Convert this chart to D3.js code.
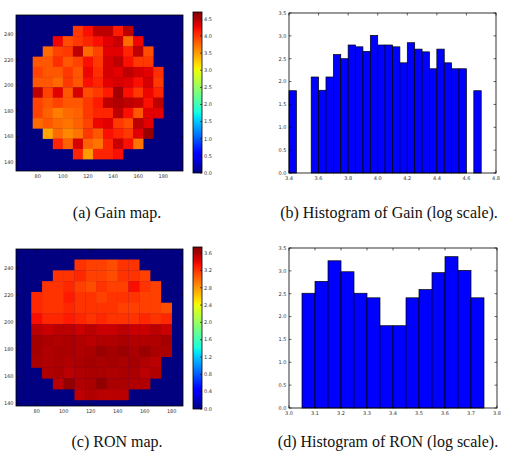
<!DOCTYPE html>
<html>
<head>
<meta charset="utf-8">
<script src="https://cdn.jsdelivr.net/npm/d3@7"></script>
<style>
  body { margin: 0; background: #fff; }
  text { font-family: "DejaVu Sans", sans-serif; fill: #333; }
  .caption { font-family: "Liberation Serif", serif; font-size: 16px; fill: #111; }
</style>
</head>
<body>
<svg id="fig" width="506" height="455"></svg>
<script>
// ---- data ----
// gain map, 13x13 cells (8 px bins), top row first, null = outside the detector
const gainMap = [
  [null, null, null, null, 4.0, 4.2, 4.45, 4.45, 4.15, 4.45, null, null, null],
  [null, null, 4.25, 3.9, 4.0, 4.1, 4.2, 4.3, 4.4, 3.75, 4.25, null, null],
  [null, 3.75, 3.95, 4.0, 4.45, 3.75, 3.95, 4.3, 4.3, 4.1, 4.45, 3.9, null],
  [3.85, 3.85, 4.05, 3.85, 3.95, 4.2, 4.0, 4.35, 4.45, 4.2, 4.0, 4.0, null],
  [3.95, 3.85, 3.85, 4.0, 3.85, 4.25, 4.05, 4.35, 4.3, 4.45, 4.35, 4.3, 4.05],
  [3.85, 3.85, 3.75, 4.0, 3.85, 4.2, 4.1, 4.3, 4.35, 4.3, 4.2, 4.35, 4.0],
  [4.45, 3.95, 4.3, 3.85, 4.35, 3.9, 4.0, 4.15, 4.55, 4.2, 4.0, 4.25, 4.1],
  [3.95, 3.85, 3.95, 3.85, 3.85, 4.0, 4.15, 4.45, 4.5, 4.45, 4.4, 4.2, 4.45],
  [3.95, 3.8, 3.65, 3.75, 3.8, 4.0, 4.1, 4.1, 4.45, 4.2, 3.85, 4.3, 4.3],
  [3.75, 3.85, 3.75, 3.7, 3.8, 3.95, 4.25, 4.3, 4.0, 3.9, 4.45, 4.3, null],
  [null, 3.45, 3.75, 3.6, 3.7, 4.0, 3.85, 4.2, 4.1, 4.0, 4.3, 4.6, null],
  [null, null, 4.1, 3.8, 4.35, 3.8, 3.7, 4.1, 4.4, 4.2, 3.7, null, null],
  [null, null, null, null, 4.1, 3.5, 4.1, 4.1, 4.2, null, null, null, null]
];
const ronMap = [
  [null, null, null, null, 3.2, 3.15, 3.15, 3.1, 3.2, 3.2, null, null, null],
  [null, null, 3.2, 3.2, 3.25, 3.15, 3.15, 3.1, 3.2, 3.2, 3.15, null, null],
  [null, 3.2, 3.2, 3.25, 3.15, 3.1, 3.2, 3.15, 3.15, 3.35, 3.2, 3.15, null],
  [3.25, 3.2, 3.2, 3.3, 3.2, 3.2, 3.15, 3.2, 3.2, 3.2, 3.15, 3.15, null],
  [3.25, 3.2, 3.2, 3.25, 3.2, 3.2, 3.2, 3.2, 3.15, 3.15, 3.15, 3.15, 3.1],
  [3.35, 3.25, 3.25, 3.3, 3.25, 3.2, 3.25, 3.2, 3.2, 3.2, 3.25, 3.2, 3.25],
  [3.55, 3.5, 3.55, 3.55, 3.5, 3.55, 3.5, 3.5, 3.55, 3.5, 3.5, 3.55, 3.5],
  [3.62, 3.6, 3.58, 3.6, 3.58, 3.55, 3.58, 3.58, 3.6, 3.58, 3.58, 3.58, 3.62],
  [3.62, 3.58, 3.6, 3.6, 3.58, 3.6, 3.65, 3.62, 3.65, 3.6, 3.65, 3.6, 3.6],
  [3.6, 3.58, 3.6, 3.58, 3.6, 3.62, 3.6, 3.62, 3.6, 3.62, 3.58, 3.55, null],
  [null, 3.58, 3.6, 3.55, 3.58, 3.6, 3.6, 3.58, 3.6, 3.6, 3.55, 3.58, null],
  [null, null, 3.55, 3.68, 3.58, 3.6, 3.68, 3.6, 3.6, 3.58, 3.58, null, null],
  [null, null, null, null, 3.55, 3.58, 3.55, 3.55, 3.55, null, null, null, null]
];
const gainMax = 4.7;
const ronMax = 3.74;
const gainCbarTicks = [0, 0.5, 1, 1.5, 2, 2.5, 3, 3.5, 4, 4.5];
const ronCbarTicks = [0, 0.4, 0.8, 1.2, 1.6, 2.0, 2.4, 2.8, 3.2, 3.6];
const mapXTicks = [80, 100, 120, 140, 160, 180];
const mapYTicks = [140, 160, 180, 200, 220, 240];

// histograms: left edge of each bin (width 0.05) and log10 count
const gainBins = [3.40, 3.55, 3.60, 3.65, 3.70, 3.75, 3.80, 3.85, 3.90, 3.95, 4.00, 4.05,
  4.10, 4.15, 4.20, 4.25, 4.30, 4.35, 4.40, 4.45, 4.50, 4.55, 4.65];
const gainLogCounts = [1.8, 2.1, 1.81, 2.1, 2.59, 2.5, 2.8, 2.76, 2.66, 3.01, 2.8, 2.8,
  2.76, 2.41, 2.85, 2.71, 2.65, 2.28, 2.71, 2.41, 2.28, 2.28, 1.8];
const ronBins = [3.05, 3.10, 3.15, 3.20, 3.25, 3.30, 3.35, 3.40, 3.45, 3.50, 3.55, 3.60, 3.65, 3.70];
const ronLogCounts = [2.51, 2.77, 3.22, 2.98, 2.51, 2.41, 1.8, 1.8, 2.41, 2.59, 2.96, 3.31, 3.01, 2.41];
const binWidth = 0.05;
const gainHistXTicks = [3.4, 3.6, 3.8, 4.0, 4.2, 4.4, 4.6, 4.8];
const ronHistXTicks = [3.0, 3.1, 3.2, 3.3, 3.4, 3.5, 3.6, 3.7, 3.8];
const histYTicks = [0, 0.5, 1, 1.5, 2, 2.5, 3, 3.5];

const captions = ["(a) Gain map.", "(b) Histogram of Gain (log scale).",
  "(c) RON map.", "(d) Histogram of RON (log scale)."];

// matplotlib "jet"
const jetR = d3.scaleLinear().domain([0, 0.35, 0.66, 0.89, 1]).range([0, 0, 1, 1, 0.5]).clamp(true);
const jetG = d3.scaleLinear().domain([0, 0.125, 0.375, 0.64, 0.91, 1]).range([0, 0, 1, 1, 0, 0]).clamp(true);
const jetB = d3.scaleLinear().domain([0, 0.11, 0.34, 0.65, 1]).range([0.5, 1, 1, 0, 0]).clamp(true);
const jet = t => d3.rgb(jetR(t) * 255, jetG(t) * 255, jetB(t) * 255).formatHex();

const svg = d3.select('#fig');
svg.append('rect').attr('width', 506).attr('height', 455).attr('fill', '#fff');

// cell grid in detector coords
const cellSize = 8, cellLeft = 76, cellTop = 246.5;

function frameTicks(g, x, y, xt, yt, len) {
  const [x0, x1] = x.range(), [y0, y1] = y.range();
  xt.forEach(v => {
    const px = x(v);
    g.append('line').attr('x1', px).attr('x2', px).attr('y1', y0).attr('y2', y0 - len).attr('stroke', '#000').attr('stroke-width', 0.6);
    g.append('line').attr('x1', px).attr('x2', px).attr('y1', y1).attr('y2', y1 + len).attr('stroke', '#000').attr('stroke-width', 0.6);
  });
  yt.forEach(v => {
    const py = y(v);
    g.append('line').attr('x1', x0).attr('x2', x0 + len).attr('y1', py).attr('y2', py).attr('stroke', '#000').attr('stroke-width', 0.6);
    g.append('line').attr('x1', x1).attr('x2', x1 - len).attr('y1', py).attr('y2', py).attr('stroke', '#000').attr('stroke-width', 0.6);
  });
}

function tickLabels(g, x, y, xt, yt, fmt) {
  const y0 = y.range()[0], x0 = x.range()[0];
  g.selectAll(null).data(xt).join('text')
    .attr('x', d => x(d)).attr('y', y0 + 6.5)
    .attr('text-anchor', 'middle').attr('font-size', 5).text(fmt);
  g.selectAll(null).data(yt).join('text')
    .attr('x', x0 - 2.5).attr('y', d => y(d) + 1.8)
    .attr('text-anchor', 'end').attr('font-size', 5).text(fmt);
}

function drawMap(box, values, vmax, cbar, cticks, id) {
  const g = svg.append('g');
  const x = d3.scaleLinear().domain(box.xd).range([box.x0, box.x1]);
  const y = d3.scaleLinear().domain(box.yd).range([box.y1, box.y0]);
  const color = v => jet(v / vmax);

  g.append('rect').attr('x', box.x0).attr('y', box.y0)
    .attr('width', box.x1 - box.x0).attr('height', box.y1 - box.y0).attr('fill', color(0));

  const cells = [];
  values.forEach((row, r) => row.forEach((v, c) => {
    if (v !== null) cells.push({ r, c, v });
  }));
  g.selectAll(null).data(cells).join('rect')
    .attr('x', d => x(cellLeft + d.c * cellSize))
    .attr('y', d => y(cellTop - d.r * cellSize))
    .attr('width', d => x(cellLeft + (d.c + 1) * cellSize) - x(cellLeft + d.c * cellSize) + 0.3)
    .attr('height', d => y(cellTop - (d.r + 1) * cellSize) - y(cellTop - d.r * cellSize) + 0.3)
    .attr('fill', d => color(d.v));

  g.append('rect').attr('x', box.x0).attr('y', box.y0)
    .attr('width', box.x1 - box.x0).attr('height', box.y1 - box.y0)
    .attr('fill', 'none').attr('stroke', '#000').attr('stroke-width', 0.8);
  frameTicks(g, x, y, mapXTicks, mapYTicks, 2.5);
  tickLabels(g, x, y, mapXTicks, mapYTicks, d => d);

  // colorbar
  const grad = svg.append('defs').append('linearGradient').attr('id', id)
    .attr('x1', 0).attr('y1', 1).attr('x2', 0).attr('y2', 0);
  d3.range(0, 1.0001, 0.02).forEach(t => {
    grad.append('stop').attr('offset', t).attr('stop-color', jet(t));
  });
  const cy = d3.scaleLinear().domain([0, vmax]).range([cbar.y1, cbar.y0]);
  g.append('rect').attr('x', cbar.x0).attr('y', cbar.y0)
    .attr('width', cbar.x1 - cbar.x0).attr('height', cbar.y1 - cbar.y0)
    .attr('fill', `url(#${id})`).attr('stroke', '#000').attr('stroke-width', 0.8);
  cticks.forEach(v => {
    g.append('line').attr('x1', cbar.x1).attr('x2', cbar.x1 - 2)
      .attr('y1', cy(v)).attr('y2', cy(v)).attr('stroke', '#000').attr('stroke-width', 0.6);
  });
  g.selectAll(null).data(cticks).join('text')
    .attr('x', cbar.x1 + 2).attr('y', d => cy(d) + 1.8)
    .attr('font-size', 5).text(d => d3.format('.1f')(d));
}

function drawHist(box, bins, counts, xd, xt) {
  const g = svg.append('g');
  const x = d3.scaleLinear().domain(xd).range([box.x0, box.x1]);
  const y = d3.scaleLinear().domain([0, 3.5]).range([box.y1, box.y0]);
  g.selectAll(null).data(bins).join('rect')
    .attr('x', d => x(d))
    .attr('y', (d, i) => y(counts[i]))
    .attr('width', d => x(d + binWidth) - x(d))
    .attr('height', (d, i) => y(0) - y(counts[i]))
    .attr('fill', '#0000ff').attr('stroke', '#000').attr('stroke-width', 0.7);
  g.append('rect').attr('x', box.x0).attr('y', box.y0)
    .attr('width', box.x1 - box.x0).attr('height', box.y1 - box.y0)
    .attr('fill', 'none').attr('stroke', '#000').attr('stroke-width', 0.8);
  frameTicks(g, x, y, xt, histYTicks, 2.5);
  tickLabels(g, x, y, xt, histYTicks, d => d3.format('.1f')(d));
}

drawMap({ x0: 16, x1: 183, y0: 15, y1: 171, xd: [62.7, 195.7], yd: [133.2, 255] },
  gainMap, gainMax, { x0: 193, x1: 202, y0: 12, y1: 173 }, gainCbarTicks, 'cbA');
drawHist({ x0: 289, x1: 496, y0: 13, y1: 173 }, gainBins, gainLogCounts, [3.4, 4.8], gainHistXTicks);
drawMap({ x0: 16, x1: 183, y0: 249, y1: 406, xd: [64.7, 188.4], yd: [138, 254.3] },
  ronMap, ronMax, { x0: 193, x1: 202, y0: 247, y1: 409 }, ronCbarTicks, 'cbC');
drawHist({ x0: 289, x1: 497, y0: 248, y1: 408 }, ronBins, ronLogCounts, [3.0, 3.8], ronHistXTicks);

// captions
const capPos = [[117, 218], [389, 218], [117, 447], [388, 447]];
svg.selectAll('text.caption').data(captions).join('text')
  .attr('class', 'caption')
  .attr('x', (d, i) => capPos[i][0]).attr('y', (d, i) => capPos[i][1])
  .attr('text-anchor', 'middle').text(d => d);
</script>
</body>
</html>
